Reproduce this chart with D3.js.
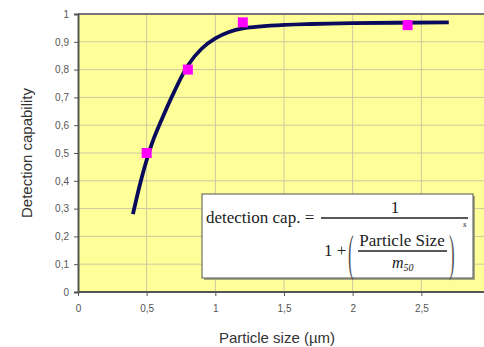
<!DOCTYPE html>
<html><head><meta charset="utf-8">
<script src="https://cdn.jsdelivr.net/npm/d3@7/dist/d3.min.js"></script>
<style>body{margin:0;background:#fff}svg{display:block}</style>
</head><body>
<svg id="c" width="484" height="347"></svg>
<script>
// Data
const curveX = [0.4, 0.45, 0.5, 0.55, 0.6, 0.7, 0.8, 0.9, 1.0, 1.1, 1.2, 1.4, 1.7, 2.0, 2.7];
const curveY = [0.28, 0.385, 0.475, 0.55, 0.61, 0.72, 0.815, 0.875, 0.912, 0.935, 0.948, 0.958, 0.964, 0.967, 0.97];
const pointX = [0.5, 0.8, 1.2, 2.4];
const pointY = [0.5, 0.8, 0.97, 0.96];
const xTicks = [0, 0.5, 1, 1.5, 2, 2.5];
const xTickLabels = ["0", "0,5", "1", "1,5", "2", "2,5"];
const yTicks = [0, 0.1, 0.2, 0.3, 0.4, 0.5, 0.6, 0.7, 0.8, 0.9, 1];
const yTickLabels = ["0", "0,1", "0,2", "0,3", "0,4", "0,5", "0,6", "0,7", "0,8", "0,9", "1"];

const svg = d3.select("#c");
const L = 78, T = 14, B = 292, R = 490;
const x = d3.scaleLinear().domain([0, 3]).range([L, R]);
const y = d3.scaleLinear().domain([0, 1]).range([B, T]);

svg.append("rect").attr("x", L).attr("y", T).attr("width", 484 - L).attr("height", B - T).attr("fill", "#FFFF99");

svg.append("g").selectAll("line").data(yTicks.slice(1)).join("line")
  .attr("x1", L).attr("x2", 484).attr("y1", d => y(d)).attr("y2", d => y(d))
  .attr("stroke", "#CCC8A0").attr("stroke-width", 1);
svg.append("g").selectAll("line").data(xTicks.slice(1)).join("line")
  .attr("x1", d => x(d)).attr("x2", d => x(d)).attr("y1", T).attr("y2", B)
  .attr("stroke", "#CCC8A0").attr("stroke-width", 1);

svg.append("line").attr("x1", L).attr("x2", 484).attr("y1", T).attr("y2", T).attr("stroke", "#777").attr("stroke-width", 2);

const yAxis = d3.axisLeft(y).tickValues(yTicks).tickFormat((d, i) => yTickLabels[i]).tickSize(4).tickPadding(5);
const gy = svg.append("g").attr("transform", `translate(${L},0)`).call(yAxis);
const xAxis = d3.axisBottom(x).tickValues(xTicks).tickFormat((d, i) => xTickLabels[i]).tickSize(4).tickPadding(9);
const gx = svg.append("g").attr("transform", `translate(0,${B})`).call(xAxis);
[gy, gx].forEach(g => {
  g.select(".domain").attr("stroke", "#555").attr("stroke-width", 2);
  g.selectAll(".tick line").attr("stroke", "#555");
  g.selectAll("text").attr("fill", "#555").style("font-family", "Liberation Sans, Arial, sans-serif").style("font-size", "10px");
});
gx.select(".domain").attr("d", `M${L},0H484`);

svg.append("text").attr("transform", "translate(32,153) rotate(-90)").attr("text-anchor", "middle")
  .style("font-family", "Liberation Sans, Arial, sans-serif").style("font-size", "15px").attr("fill", "#333")
  .text("Detection capability");
svg.append("text").attr("x", 277).attr("y", 343).attr("text-anchor", "middle")
  .style("font-family", "Liberation Sans, Arial, sans-serif").style("font-size", "15px").attr("fill", "#333")
  .text("Particle size (µm)");

const line = d3.line().x(d => x(d[0])).y(d => y(d[1])).curve(d3.curveCatmullRom.alpha(0.5));
svg.append("path").datum(d3.zip(curveX, curveY)).attr("d", line)
  .attr("fill", "none").attr("stroke", "#0A0A5C").attr("stroke-width", 3.8).attr("stroke-linecap", "butt");

svg.append("g").selectAll("rect").data(d3.zip(pointX, pointY)).join("rect")
  .attr("x", d => x(d[0]) - 5).attr("y", d => y(d[1]) - 5).attr("width", 10).attr("height", 10)
  .attr("fill", "#FF00FF");

// formula box
const f = svg.append("g");
f.append("rect").attr("x", 204).attr("y", 196).attr("width", 271).attr("height", 84).attr("fill", "#A8A880");
f.append("rect").attr("x", 202).attr("y", 194).attr("width", 271).attr("height", 84).attr("fill", "#fff").attr("stroke", "#555").attr("stroke-width", 1);
const serif = "Liberation Serif, Times New Roman, serif";
f.append("text").attr("x", 206).attr("y", 223).style("font-family", serif).style("font-size", "17px").attr("fill", "#222").text("detection cap. =");
f.append("line").attr("x1", 321).attr("x2", 468).attr("y1", 218).attr("y2", 218).attr("stroke", "#222").attr("stroke-width", 1.3);
f.append("text").attr("x", 395).attr("y", 213).attr("text-anchor", "middle").style("font-family", serif).style("font-size", "17px").attr("fill", "#222").text("1");
f.append("text").attr("x", 324).attr("y", 256).style("font-family", serif).style("font-size", "17px").attr("fill", "#222").text("1 +");
f.append("text").attr("transform", "translate(348,270) scale(1,3)").style("font-family", serif).style("font-size", "17px").attr("fill", "#555").text("(");
f.append("text").attr("transform", "translate(449,270) scale(1,3)").style("font-family", serif).style("font-size", "17px").attr("fill", "#555").text(")");
f.append("text").attr("x", 402).attr("y", 246).attr("text-anchor", "middle").style("font-family", serif).style("font-size", "17px").attr("fill", "#222").text("Particle Size");
f.append("line").attr("x1", 358).attr("x2", 447).attr("y1", 251).attr("y2", 251).attr("stroke", "#222").attr("stroke-width", 1.3);
const m = f.append("text").attr("x", 392).attr("y", 268).style("font-family", serif).style("font-size", "16px").style("font-style", "italic").attr("fill", "#222");
m.append("tspan").text("m");
m.append("tspan").attr("dy", 3).style("font-size", "10px").text("50");
f.append("text").attr("x", 463).attr("y", 227).style("font-family", serif).style("font-size", "9px").style("font-style", "italic").attr("fill", "#222").text("s");
</script>
</body></html>
